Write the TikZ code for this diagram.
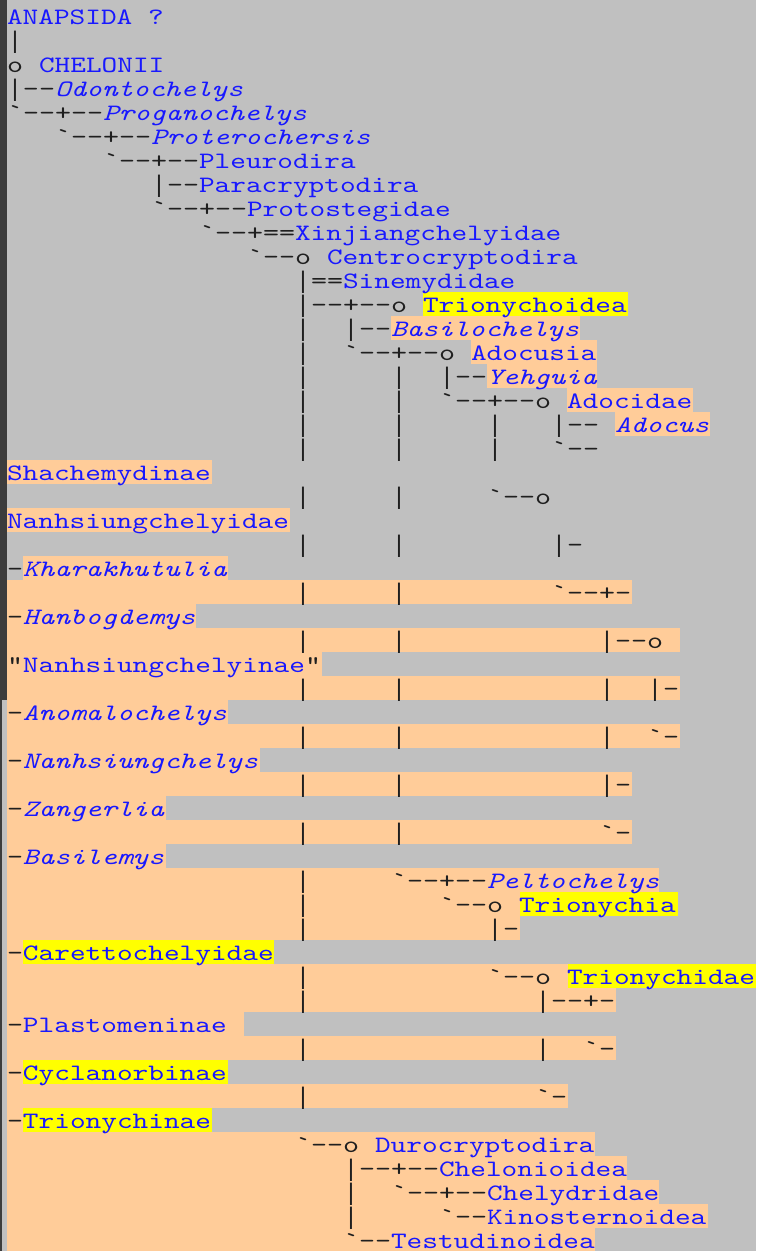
\documentclass[tikz,border=0pt]{standalone}
\usepackage{fontspec}
\newfontfamily\cladefont[ItalicFont=lmmono10-italic.otf,FakeStretch=1.27]{lmmono10-regular.otf}
\newfontfamily\barfont{Liberation Mono}
\newcommand\treefont{\cladefont\fontsize{24}{24}\selectfont}
\newcommand\taxfont{\cladefont\fontsize{23.5}{24}\selectfont}
% the vertical stroke character, in a taller face, one character cell wide
\newcommand\vb{\hbox to 16pt{\hss{\barfont\fontsize{24}{24}\selectfont|}\hss}}

\definecolor{pagegray}{RGB}{192,192,192}
\definecolor{peach}{RGB}{255,204,153}
\definecolor{marker}{RGB}{255,255,0}
\definecolor{linkblue}{RGB}{24,24,255}
\definecolor{edgegray}{RGB}{60,60,60}

\tikzset{
  tree/.style={anchor=base west, inner sep=0pt, outer sep=0pt, text=black!88, font=\treefont},
  taxon/.style={anchor=base west, inner sep=0pt, outer sep=0pt, text=linkblue, font=\taxfont},
  itaxon/.style={taxon, font=\taxfont\itshape},
}

% tree characters: column, line, text
\newcommand\Tr[3]{\node[tree] (tr-#2-#1) at ({7+16*#1},{24+24*#2}) {#3};}
% taxon names: [style], column, line, text
\newcommand\Tx[4][taxon]{\node[#1] (tx-#3) at ({7+16*#2},{24+24*#3}) {#4};}
% highlight band: colour, line, x from, x to
\newcommand\Bg[4]{\fill[#1] (#3,{4+24*#2}) rectangle (#4,{28+24*#2});}

\begin{document}
\begin{tikzpicture}[x=1pt,y=-1pt]
\useasboundingbox (0,0) rectangle (756,1251);
\fill[pagegray] (0,0) rectangle (756,1251);
% left page edge
\fill[edgegray] (0,0) rectangle (7,700);
\fill[edgegray] (0,700) rectangle (2,1251);

% highlight bands
\Bg{marker}{12}{423}{628}
\Bg{peach}{13}{391}{580}
\Bg{peach}{14}{471}{597}
\Bg{peach}{15}{487}{597}
\Bg{peach}{16}{567}{693}
\Bg{peach}{17}{615}{710}
\Bg{peach}{19}{7}{212}
\Bg{peach}{21}{7}{290}
\Bg{peach}{23}{23}{228}
\Bg{peach}{24}{7}{632}
\Bg{peach}{25}{7}{196}
\Bg{peach}{26}{7}{680}
\Bg{peach}{27}{7}{322}
\Bg{peach}{28}{7}{680}
\Bg{peach}{29}{7}{228}
\Bg{peach}{30}{7}{680}
\Bg{peach}{31}{7}{260}
\Bg{peach}{32}{7}{632}
\Bg{peach}{33}{7}{166}
\Bg{peach}{34}{7}{632}
\Bg{peach}{35}{7}{166}
\Bg{peach}{36}{7}{659}
\Bg{peach}{37}{7}{520}
\Bg{marker}{37}{520}{678}
\Bg{peach}{38}{7}{520}
\Bg{peach}{39}{7}{23}
\Bg{marker}{39}{23}{274}
\Bg{peach}{40}{7}{568}
\Bg{marker}{40}{568}{756}
\Bg{peach}{41}{7}{616}
\Bg{peach}{42}{7}{244}
\Bg{peach}{43}{7}{616}
\Bg{peach}{44}{7}{23}
\Bg{marker}{44}{23}{228}
\Bg{peach}{45}{7}{568}
\Bg{peach}{46}{7}{23}
\Bg{marker}{46}{23}{212}
\Bg{peach}{47}{7}{595}
\Bg{peach}{48}{7}{627}
\Bg{peach}{49}{7}{659}
\Bg{peach}{50}{7}{708}
\Bg{peach}{51}{7}{595}

% the cladogram
\Tx{0}{0}{ANAPSIDA}
\node[taxon] (tx-q) at (148,24) {?};
\Tr{0}{1}{\vb}
\Tr{0}{2}{o}            \Tx{2}{2}{CHELONII}
\Tr{0}{3}{\vb--}          \Tx[itaxon]{3}{3}{Odontochelys}
\Tr{0}{4}{`--+--}       \Tx[itaxon]{6}{4}{Proganochelys}
\Tr{3}{5}{`--+--}       \Tx[itaxon]{9}{5}{Proterochersis}
\Tr{6}{6}{`--+--}       \Tx{12}{6}{Pleurodira}
\Tr{9}{7}{\vb--}          \Tx{12}{7}{Paracryptodira}
\Tr{9}{8}{`--+--}       \Tx{15}{8}{Protostegidae}
\Tr{12}{9}{`--+==}      \Tx{18}{9}{Xinjiangchelyidae}
\Tr{15}{10}{`--o}       \Tx{20}{10}{Centrocryptodira}
\Tr{18}{11}{\vb==}        \Tx{21}{11}{Sinemydidae}
\Tr{18}{12}{\vb--+--o}    \Tx{26}{12}{Trionychoidea}
\Tr{18}{13}{\vb} \Tr{21}{13}{\vb--}      \Tx[itaxon]{24}{13}{Basilochelys}
\Tr{18}{14}{\vb} \Tr{21}{14}{`--+--o}  \Tx{29}{14}{Adocusia}
\Tr{18}{15}{\vb} \Tr{24}{15}{\vb} \Tr{27}{15}{\vb--}     \Tx[itaxon]{30}{15}{Yehguia}
\Tr{18}{16}{\vb} \Tr{24}{16}{\vb} \Tr{27}{16}{`--+--o} \Tx{35}{16}{Adocidae}
\Tr{18}{17}{\vb} \Tr{24}{17}{\vb} \Tr{30}{17}{\vb} \Tr{34}{17}{\vb--} \Tx[itaxon]{38}{17}{Adocus}
\Tr{18}{18}{\vb} \Tr{24}{18}{\vb} \Tr{30}{18}{\vb} \Tr{34}{18}{`--}
\Tx{0}{19}{Shachemydinae}
\Tr{18}{20}{\vb} \Tr{24}{20}{\vb} \Tr{30}{20}{`--o}
\Tx{0}{21}{Nanhsiungchelyidae}
\Tr{18}{22}{\vb} \Tr{24}{22}{\vb} \Tr{34}{22}{\vb-}
\Tr{0}{23}{-}  \Tx[itaxon]{1}{23}{Kharakhutulia}
\Tr{18}{24}{\vb} \Tr{24}{24}{\vb} \Tr{34}{24}{`--+-}
\Tr{0}{25}{-}  \Tx[itaxon]{1}{25}{Hanbogdemys}
\Tr{18}{26}{\vb} \Tr{24}{26}{\vb} \Tr{37}{26}{\vb--o}
\Tr{0}{27}{"}  \Tx{1}{27}{Nanhsiungchelyinae}
\node[tree] (tr-27-end) at (tx-27.base east) {"};
\Tr{18}{28}{\vb} \Tr{24}{28}{\vb} \Tr{37}{28}{\vb} \Tr{40}{28}{\vb-}
\Tr{0}{29}{-}  \Tx[itaxon]{1}{29}{Anomalochelys}
\Tr{18}{30}{\vb} \Tr{24}{30}{\vb} \Tr{37}{30}{\vb} \Tr{40}{30}{`-}
\Tr{0}{31}{-}  \Tx[itaxon]{1}{31}{Nanhsiungchelys}
\Tr{18}{32}{\vb} \Tr{24}{32}{\vb} \Tr{37}{32}{\vb-}
\Tr{0}{33}{-}  \Tx[itaxon]{1}{33}{Zangerlia}
\Tr{18}{34}{\vb} \Tr{24}{34}{\vb} \Tr{37}{34}{`-}
\Tr{0}{35}{-}  \Tx[itaxon]{1}{35}{Basilemys}
\Tr{18}{36}{\vb} \Tr{24}{36}{`--+--}   \Tx[itaxon]{30}{36}{Peltochelys}
\Tr{18}{37}{\vb} \Tr{27}{37}{`--o}     \Tx{32}{37}{Trionychia}
\Tr{18}{38}{\vb} \Tr{30}{38}{\vb-}
\Tr{0}{39}{-}  \Tx{1}{39}{Carettochelyidae}
\Tr{18}{40}{\vb} \Tr{30}{40}{`--o}     \Tx{35}{40}{Trionychidae}
\Tr{18}{41}{\vb} \Tr{33}{41}{\vb--+-}
\Tr{0}{42}{-}  \Tx{1}{42}{Plastomeninae}
\Tr{18}{43}{\vb} \Tr{33}{43}{\vb} \Tr{36}{43}{`-}
\Tr{0}{44}{-}  \Tx{1}{44}{Cyclanorbinae}
\Tr{18}{45}{\vb} \Tr{33}{45}{`-}
\Tr{0}{46}{-}  \Tx{1}{46}{Trionychinae}
\Tr{18}{47}{`--o}       \Tx{23}{47}{Durocryptodira}
\Tr{21}{48}{\vb--+--}     \Tx{27}{48}{Chelonioidea}
\Tr{21}{49}{\vb} \Tr{24}{49}{`--+--}   \Tx{30}{49}{Chelydridae}
\Tr{21}{50}{\vb} \Tr{27}{50}{`--}      \Tx{30}{50}{Kinosternoidea}
\Tr{21}{51}{`--}        \Tx{24}{51}{Testudinoidea}
\end{tikzpicture}
\end{document}
